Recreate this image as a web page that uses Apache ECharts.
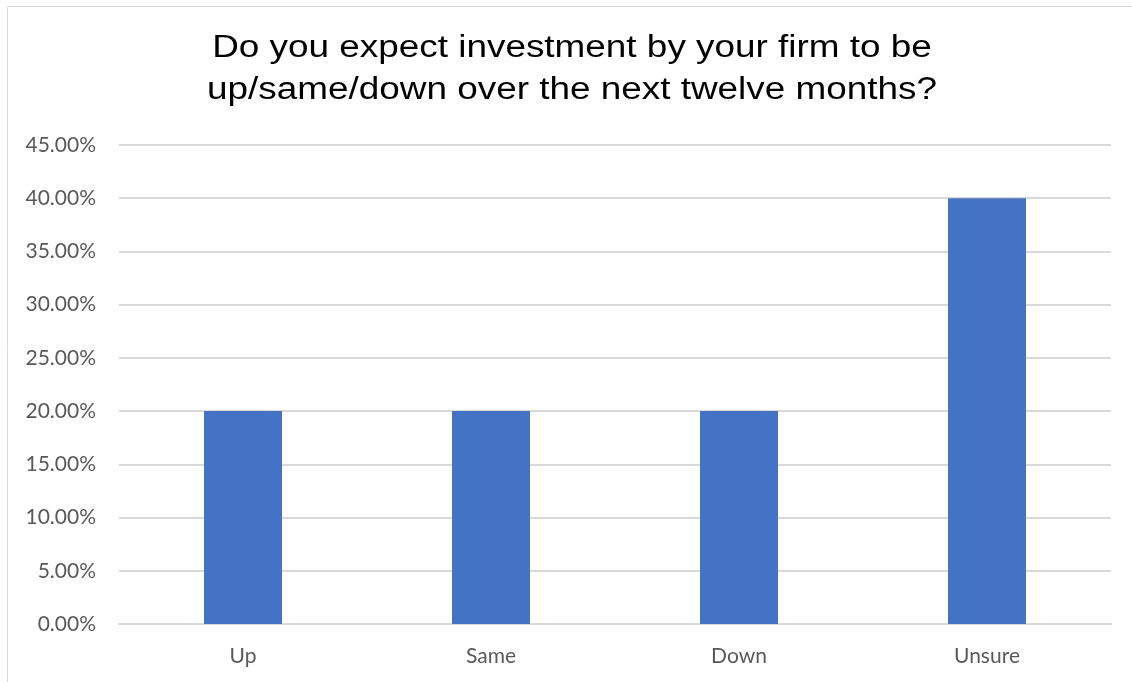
<!DOCTYPE html>
<html>
<head>
<meta charset="utf-8">
<script src="https://cdn.jsdelivr.net/npm/echarts@6/dist/echarts.min.js"></script>
<style>
  html, body { margin: 0; padding: 0; background: #ffffff; }
  #chart { width: 1132px; height: 682px; }
</style>
</head>
<body>
<div id="chart"></div>
<script>
// Survey answers and their shares (percent)
const categories = ['Up', 'Same', 'Down', 'Unsure'];
const shares = [20, 20, 20, 40];
const titleText = 'Do you expect investment by your firm to be\nup/same/down over the next twelve months?';

const chart = echarts.init(document.getElementById('chart'), null, { renderer: 'canvas' });

const labelFont = 'Lato, Open Sans, sans-serif';

chart.setOption({
  animation: false,
  backgroundColor: '#ffffff',
  graphic: [
    {
      // chart frame
      type: 'rect',
      shape: { x: 7.5, y: 6.5, width: 1140, height: 700 },
      style: { fill: null, stroke: '#d9d9d9', lineWidth: 1 },
      silent: true
    },
    {
      // two-line heading, widened a little
      type: 'text',
      x: 572,
      y: 27,
      scaleX: 1.19,
      silent: true,
      style: {
        text: titleText,
        fontFamily: 'Liberation Sans, Arial, sans-serif',
        fontSize: 31,
        lineHeight: 42,
        fill: '#000000',
        align: 'center',
        verticalAlign: 'top'
      }
    }
  ],
  grid: { left: 119, right: 21, top: 145, bottom: 58, containLabel: false },
  xAxis: {
    type: 'category',
    data: categories,
    axisLine: { show: true, lineStyle: { color: '#d9d9d9', width: 2 } },
    axisTick: { show: false },
    axisLabel: {
      color: '#595959',
      fontFamily: labelFont,
      fontSize: 21,
      margin: 22
    }
  },
  yAxis: {
    type: 'value',
    min: 0,
    max: 45,
    interval: 5,
    axisLine: { show: false },
    axisTick: { show: false },
    splitLine: { lineStyle: { color: '#d9d9d9', width: 2 } },
    axisLabel: {
      color: '#595959',
      fontFamily: labelFont,
      fontSize: 21,
      margin: 23,
      formatter: v => v.toFixed(2) + '%'
    }
  },
  series: [{
    type: 'bar',
    data: shares,
    barWidth: 78,
    itemStyle: { color: '#4472c4' }
  }]
});
</script>
</body>
</html>
